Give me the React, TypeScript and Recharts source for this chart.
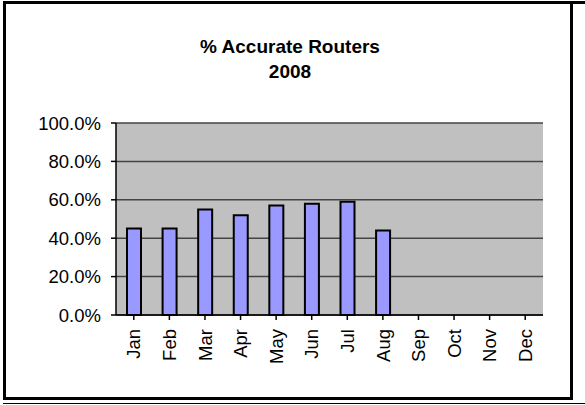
import { BarChart, Bar, XAxis, YAxis, CartesianGrid } from "recharts";

const months = ["Jan", "Feb", "Mar", "Apr", "May", "Jun", "Jul", "Aug", "Sep", "Oct", "Nov", "Dec"];
const accurate = [0.45, 0.45, 0.55, 0.52, 0.57, 0.58, 0.59, 0.44, null, null, null, null];
const yTicks = [0, 0.2, 0.4, 0.6, 0.8, 1];

const data = months.map((m, i) => ({ month: m, value: accurate[i] }));

const font = "'Liberation Sans', Arial, sans-serif";

function MonthTick(props: any) {
  const { x, y, payload } = props;
  return (
    <text
      x={x}
      y={y}
      transform={`rotate(-90, ${x}, ${y})`}
      textAnchor="end"
      dy="0.36em"
      fontSize={18.5}
      fontFamily={font}
      fill="#000"
    >
      {payload.value}
    </text>
  );
}

export default function App() {
  return (
    <div style={{ position: "absolute", left: 0, top: 0, width: 585, height: 405, background: "#fff" }}>
      {/* frame */}
      <div style={{ position: "absolute", left: 3, top: 1, width: 570, height: 399, border: "3px solid #000", boxSizing: "border-box" }} />
      <div style={{ position: "absolute", left: 570, top: 1, width: 15, height: 3, background: "#000" }} />
      <div style={{ position: "absolute", left: 3, top: 403, width: 582, height: 1, background: "#000" }} />

      <div
        style={{
          position: "absolute",
          left: 0,
          top: 35,
          width: 580,
          textAlign: "center",
          fontFamily: font,
          fontWeight: "bold",
          fontSize: 19,
          lineHeight: "24.5px",
          color: "#000",
        }}
      >
        % Accurate Routers
        <br />
        2008
      </div>

      <div style={{ position: "absolute", left: 0, top: 0 }}>
        <BarChart
          width={585}
          height={405}
          data={data}
          margin={{ top: 123, right: 42, bottom: 30, left: 0 }}
          barSize={14}
        >
          <CartesianGrid vertical={false} fill="#C0C0C0" stroke="#444" strokeWidth={1.5} />
          <XAxis
            dataKey="month"
            height={60}
            interval={0}
            tick={<MonthTick />}
            tickSize={5}
            tickMargin={9}
            axisLine={{ stroke: "#000", strokeWidth: 1.5 }}
            tickLine={{ stroke: "#000", strokeWidth: 1.5 }}
          />
          <XAxis
            xAxisId="top"
            orientation="top"
            dataKey="month"
            height={0}
            tick={false}
            tickLine={false}
            axisLine={{ stroke: "#808080", strokeWidth: 2 }}
          />
          <YAxis
            width={116}
            domain={[0, 1]}
            ticks={yTicks}
            interval={0}
            tickFormatter={(v: number) => (v * 100).toFixed(1) + "%"}
            tick={{ fontSize: 18.5, fontFamily: font, fill: "#000" }}
            tickSize={5}
            tickMargin={10}
            axisLine={{ stroke: "#000", strokeWidth: 1.5 }}
            tickLine={{ stroke: "#000", strokeWidth: 1.5 }}
          />
          <YAxis
            yAxisId="right"
            orientation="right"
            width={0}
            domain={[0, 1]}
            tick={false}
            tickLine={false}
            axisLine={{ stroke: "#808080", strokeWidth: 2 }}
          />
          <Bar dataKey="value" fill="#9999FF" stroke="#000" strokeWidth={2} isAnimationActive={false} />
        </BarChart>
      </div>
    </div>
  );
}
